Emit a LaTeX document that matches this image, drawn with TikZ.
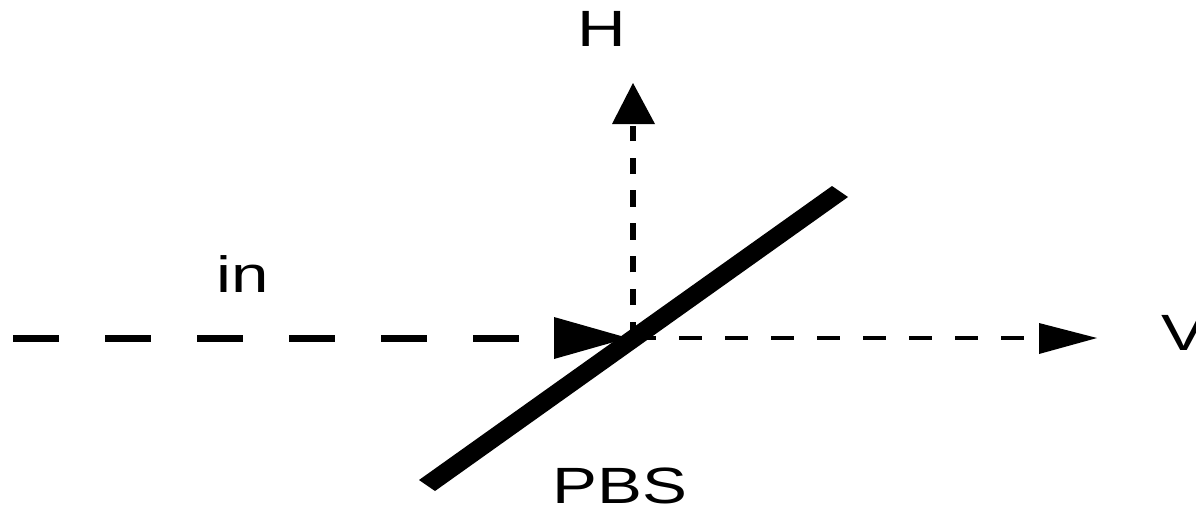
\documentclass[tikz,border=0pt]{standalone}
\usepackage{fontspec}
\setmainfont{Liberation Sans}
\begin{document}
\begin{tikzpicture}[x=1pt,y=-1pt,
  lbl/.style={font=\fontsize{51}{51}\selectfont,inner sep=0pt,anchor=base,xscale=1.32},
  tip/.style={fill=black,draw=none}]
\useasboundingbox (0,0) rectangle (1196,507);
\coordinate (cen) at (633,338);
\coordinate (inS) at (13,338);
\coordinate (inE) at (555,338);
\coordinate (vE) at (1040,338);
\coordinate (hE) at (633,126);
\coordinate (hS) at (633,338);
\draw[line width=7pt,dash pattern=on 46pt off 46pt] (inS) -- (inE);
\draw[line width=4.4pt,dash pattern=on 23pt off 23pt] (cen) -- (vE);
\draw[line width=5.5pt,dash pattern=on 16.4pt off 16.4pt] (hS) -- (hE);
\fill[tip] (419,480) -- (435,491) -- (848,197) -- (832,186) -- cycle;
\fill[tip] (554,317) -- (628,338) -- (554,359) -- cycle;
\fill[tip] (1039,323) -- (1097,338) -- (1039,354) -- cycle;
\fill[tip] (612,124) -- (633,83) -- (655,124) -- cycle;
\node[lbl] (h) at (602,46) {H};
\node[lbl] (in) at (243,292.5) {in};
\node[lbl] (v) at (1184,350) {V};
\node[lbl] (pbs) at (620,503.5) {PBS};
\end{tikzpicture}
\end{document}
